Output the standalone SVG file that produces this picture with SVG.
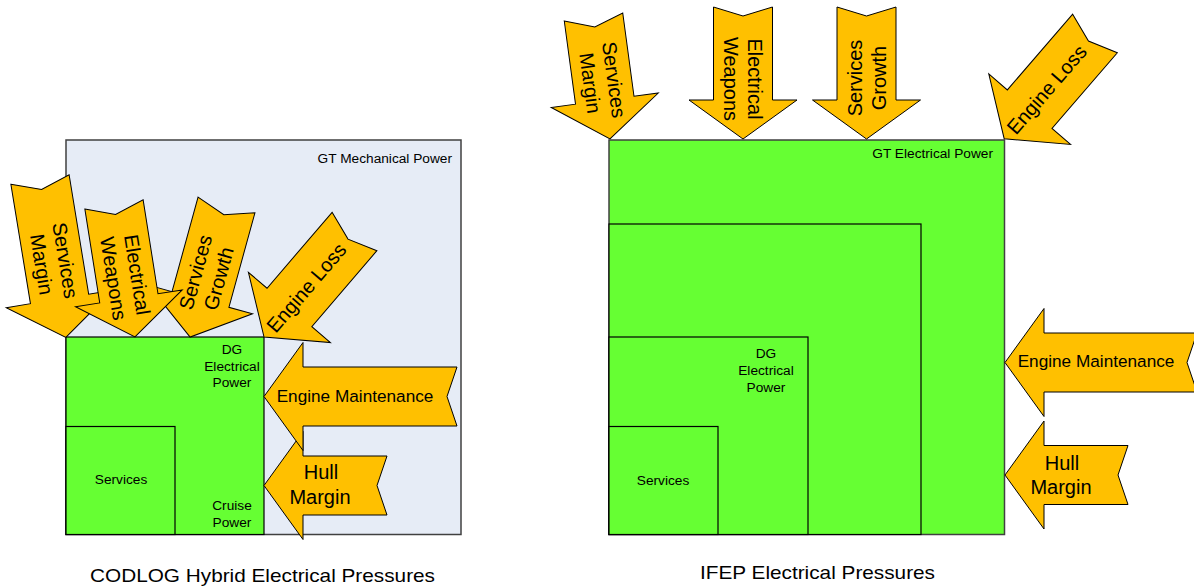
<svg xmlns="http://www.w3.org/2000/svg" width="1194" height="587" viewBox="0 0 1194 587">
  <style>
    text { font-family: "Liberation Sans", Arial, sans-serif; fill: #000; }
    .lbl { font-size: 13.7px; }
    .big { font-size: 20px; }
    .mid { font-size: 17.2px; }
    .cap { font-size: 19px; }
    .arrow { fill: #FFC000; stroke: #000; stroke-width: 1; stroke-linejoin: miter; }
    .outer { stroke: #404040; stroke-width: 1.5; }
    .inner { stroke: #000; stroke-width: 1.2; }
    .green { fill: #66FF33; }
  </style>

  <!-- ============ LEFT: CODLOG ============ -->
  <g id="gt-mechanical">
    <rect x="66" y="140" width="395" height="394.5" fill="#E6ECF6" class="outer"/>
    <text class="lbl" x="452" y="163" text-anchor="end">GT Mechanical Power</text>
  </g>
  <g id="dg-electrical-left">
    <rect x="66" y="337" width="198" height="197.5" class="green inner"/>
    <text class="lbl" text-anchor="middle"><tspan x="232" y="354">DG</tspan><tspan x="232" y="371">Electrical</tspan><tspan x="232" y="387">Power</tspan></text>
    <text class="lbl" text-anchor="middle"><tspan x="232" y="510">Cruise</tspan><tspan x="232" y="527">Power</tspan></text>
  </g>
  <g id="services-left">
    <rect x="66" y="426.5" width="109" height="108" class="green inner"/>
    <text class="lbl" x="121" y="484" text-anchor="middle">Services</text>
  </g>

  <g id="left-services-margin" transform="translate(40,179.5) rotate(-9.3)">
    <path class="arrow" d="M-29.5 0 L0 10 L29.5 0 L29.5 121 L54 121 L0 160 L-54 121 L-29.5 121 Z"/>
    <text class="big" text-anchor="middle" transform="translate(0,84) rotate(90)"><tspan x="0" y="-5">Services</tspan><tspan x="0" y="19">Margin</tspan></text>
  </g>
  <g id="left-services-growth" transform="translate(226.5,205) rotate(15.4)">
    <path class="arrow" d="M-29.5 0 L0 10 L29.5 0 L29.5 98 L54 98 L0 137 L-54 98 L-29.5 98 Z"/>
    <text class="big" text-anchor="middle" transform="translate(0,73) rotate(-90)"><tspan x="0" y="-5">Services</tspan><tspan x="0" y="19">Growth</tspan></text>
  </g>
  <g id="left-electrical-weapons" transform="translate(114,204.5) rotate(-9)">
    <path class="arrow" d="M-29.5 0 L0 10 L29.5 0 L29.5 95 L54 95 L0 134 L-54 95 L-29.5 95 Z"/>
    <text class="big" text-anchor="middle" transform="translate(0,73) rotate(90)"><tspan x="0" y="-5">Electrical</tspan><tspan x="0" y="19">Weapons</tspan></text>
  </g>
  <g id="left-engine-loss" transform="translate(354.5,231.5) rotate(40.6)">
    <path class="arrow" d="M-29.5 0 L0 10 L29.5 0 L29.5 100 L54 100 L0 139 L-54 100 L-29.5 100 Z"/>
    <text class="big" text-anchor="middle" transform="translate(0,74) rotate(-90)" x="0" y="7">Engine Loss</text>
  </g>
  <g id="left-hull-margin">
    <path class="arrow" transform="translate(387,485.5) rotate(90)" d="M-29.5 0 L0 10 L29.5 0 L29.5 84 L54 84 L0 123 L-54 84 L-29.5 84 Z"/>
    <text class="big" text-anchor="middle"><tspan x="321" y="479">Hull</tspan><tspan x="320" y="504">Margin</tspan></text>
  </g>
  <g id="left-engine-maintenance">
    <path class="arrow" transform="translate(457,396.5) rotate(90)" d="M-29.5 0 L0 10 L29.5 0 L29.5 154 L54 154 L0 193 L-54 154 L-29.5 154 Z"/>
    <text class="mid" x="355" y="402" text-anchor="middle">Engine Maintenance</text>
  </g>

  <!-- ============ RIGHT: IFEP ============ -->
  <g id="gt-electrical">
    <rect x="609" y="140" width="395.5" height="394.5" class="green outer"/>
    <text class="lbl" x="993" y="158" text-anchor="end">GT Electrical Power</text>
  </g>
  <g id="intermediate-box">
    <rect x="609" y="224" width="312" height="310.5" class="green inner"/>
  </g>
  <g id="dg-electrical-right">
    <rect x="609" y="337" width="199" height="197.5" class="green inner"/>
    <text class="lbl" text-anchor="middle"><tspan x="766" y="358">DG</tspan><tspan x="766" y="375">Electrical</tspan><tspan x="766" y="392">Power</tspan></text>
  </g>
  <g id="services-right">
    <rect x="609" y="426.5" width="109" height="108" class="green inner"/>
    <text class="lbl" x="663" y="485" text-anchor="middle">Services</text>
  </g>

  <g id="right-services-margin" transform="translate(593.5,17) rotate(-7.7)">
    <path class="arrow" d="M-29.5 0 L0 10 L29.5 0 L29.5 84 L54 84 L0 123 L-54 84 L-29.5 84 Z"/>
    <text class="big" text-anchor="middle" transform="translate(0,65) rotate(90)"><tspan x="0" y="-5">Services</tspan><tspan x="0" y="19">Margin</tspan></text>
  </g>
  <g id="right-electrical-weapons" transform="translate(743,7)">
    <path class="arrow" d="M-29.5 0 L0 9 L29.5 0 L29.5 93 L54 93 L0 132 L-54 93 L-29.5 93 Z"/>
    <text class="big" text-anchor="middle" transform="translate(0,72) rotate(90)"><tspan x="0" y="-5">Electrical</tspan><tspan x="0" y="19">Weapons</tspan></text>
  </g>
  <g id="right-services-growth" transform="translate(866.5,7)">
    <path class="arrow" d="M-29.5 0 L0 9 L29.5 0 L29.5 93 L54 93 L0 132 L-54 93 L-29.5 93 Z"/>
    <text class="big" text-anchor="middle" transform="translate(0,71) rotate(-90)"><tspan x="0" y="-5">Services</tspan><tspan x="0" y="19">Growth</tspan></text>
  </g>
  <g id="right-engine-loss" transform="translate(1095,33.5) rotate(40.8)">
    <path class="arrow" d="M-29.5 0 L0 10 L29.5 0 L29.5 100 L54 100 L0 139 L-54 100 L-29.5 100 Z"/>
    <text class="big" text-anchor="middle" transform="translate(0,74) rotate(-90)" x="0" y="7">Engine Loss</text>
  </g>
  <g id="right-engine-maintenance">
    <path class="arrow" transform="translate(1197,362.5) rotate(90)" d="M-29.5 0 L0 10 L29.5 0 L29.5 153 L54 153 L0 192 L-54 153 L-29.5 153 Z"/>
    <text class="mid" x="1096" y="367" text-anchor="middle">Engine Maintenance</text>
  </g>
  <g id="right-hull-margin">
    <path class="arrow" transform="translate(1128,475) rotate(90)" d="M-29.5 0 L0 10 L29.5 0 L29.5 84 L54 84 L0 123 L-54 84 L-29.5 84 Z"/>
    <text class="big" text-anchor="middle"><tspan x="1062" y="470">Hull</tspan><tspan x="1061" y="494">Margin</tspan></text>
  </g>

  <g id="connectors"/>

  <g id="captions">
    <text class="cap" x="90" y="582" textLength="345" lengthAdjust="spacingAndGlyphs">CODLOG Hybrid Electrical Pressures</text>
    <text class="cap" x="700" y="579" textLength="235" lengthAdjust="spacingAndGlyphs">IFEP Electrical Pressures</text>
  </g>
</svg>
